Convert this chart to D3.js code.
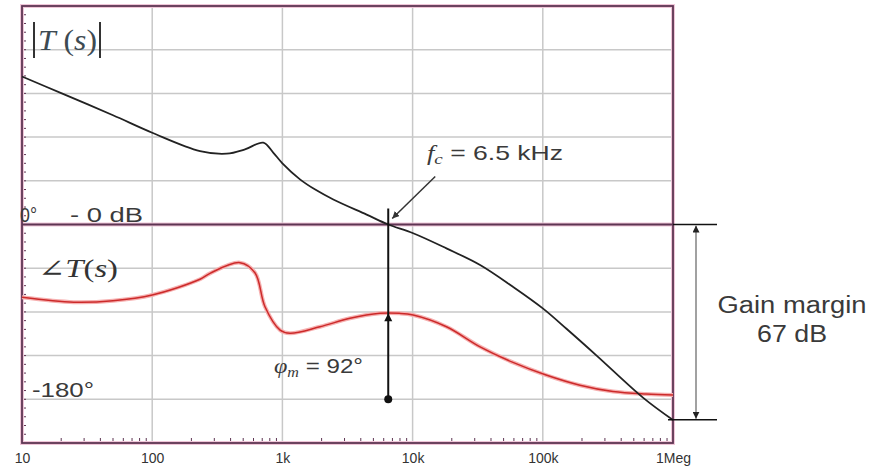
<!DOCTYPE html>
<html><head><meta charset="utf-8">
<script src="https://cdn.jsdelivr.net/npm/d3@7"></script>
<style>body{margin:0;background:#fff} svg{display:block}</style>
</head><body><svg id="c" width="872" height="468"></svg>
<script>
// ---- data ----
const decadeTicks = [10, 100, 1e3, 1e4, 1e5, 1e6];
const decadeLabels = ["10", "100", "1k", "10k", "100k", "1Meg"];
const magFreq = [10, 20, 50, 100, 233, 373, 516, 713, 850, 1000, 1365, 1800, 2460, 4436, 6500, 10100, 18200, 33000, 59000, 100000, 152000, 259000, 591000, 1000000];
const magDb   = [50.8, 45.1, 37.5, 31.5, 25.2, 24.3, 25.8, 28.1, 24.7, 21.0, 15.5, 11.9, 8.6, 3.4, 0, -3.0, -8.2, -13.9, -21.4, -28.8, -35.8, -45.0, -59.5, -67.1];
const phFreq = [10, 25, 50, 100, 233, 278, 472, 617, 735, 960, 1143, 1945, 3304, 5623, 7900, 10100, 18200, 33000, 59000, 106000, 193000, 346000, 620000, 1000000];
const phDeg  = [-75, -80, -78.5, -72.6, -56.4, -50.3, -39.3, -49.9, -84.7, -108.7, -112, -105.3, -96.6, -91.5, -91.5, -93.2, -105.3, -126, -142, -155, -165.5, -172, -174.6, -175.6];
const fcHz = 6500;
const pmPhase = -91.5;
const pmRef = -180;
const gainMarginDb = 67;

// ---- scales ----
const svg = d3.select("#c");
const L = 22, R = 673, T = 6, B = 443;
const x = d3.scaleLog().domain([10, 1e6]).range([L, R]);
const yMag = d3.scaleLinear().domain([75, -75]).range([T, B]);
const yPh = d3.scaleLinear().domain([225, -225]).range([T, B]);
const frameCol = "#5e3553";

// grid
const grid = svg.append("g");
grid.selectAll("line.h").data(d3.range(-60, 61, 15).filter(d => d !== 0)).join("line")
  .attr("x1", L).attr("x2", R).attr("y1", d => yMag(d)).attr("y2", d => yMag(d))
  .attr("stroke", "#c8c8c8").attr("stroke-width", 1.5);
grid.selectAll("line.v").data(decadeTicks.slice(1, -1)).join("line")
  .attr("x1", d => x(d)).attr("x2", d => x(d)).attr("y1", T).attr("y2", B)
  .attr("stroke", "#c8c8c8").attr("stroke-width", 1.5);

// minor ticks
const minorY = d3.range(-72, 73, 3);
svg.append("g").selectAll("line").data(minorY).join("line")
  .attr("x1", L).attr("x2", L + 4).attr("y1", d => yMag(d)).attr("y2", d => yMag(d))
  .attr("stroke", frameCol).attr("stroke-width", 1);
const minorX = [];
decadeTicks.slice(0, -1).forEach(d => { for (let k = 2; k <= 9; k++) minorX.push(d * k); });
svg.append("g").selectAll("line").data(minorX).join("line")
  .attr("x1", d => x(d)).attr("x2", d => x(d)).attr("y1", B).attr("y2", B - 5)
  .attr("stroke", frameCol).attr("stroke-width", 1);

// zero line & frame
[["#efc6d8", 4], [frameCol, 1.8]].forEach(([c, w]) => {
  svg.append("line").attr("x1", L).attr("x2", R).attr("y1", yMag(0)).attr("y2", yMag(0))
    .attr("stroke", c).attr("stroke-width", w);
  svg.append("rect").attr("x", L).attr("y", T).attr("width", R - L).attr("height", B - T)
    .attr("fill", "none").attr("stroke", c).attr("stroke-width", w);
});

// axis labels
const ax = svg.append("g").attr("transform", `translate(0,${B})`)
  .call(d3.axisBottom(x).tickValues(decadeTicks).tickFormat((d, i) => decadeLabels[i]).tickSize(0).tickPadding(10));
ax.select(".domain").remove();
ax.selectAll("text").attr("font-family", "Liberation Sans, Arial, sans-serif").attr("font-size", 14).attr("fill", "#333");

// curves
const crv = d3.curveCatmullRom.alpha(0.5);
const magLine = d3.line().x(d => x(d[0])).y(d => yMag(d[1])).curve(crv);
const phLine = d3.line().x(d => x(d[0])).y(d => yPh(d[1])).curve(crv);
const magData = magFreq.map((f, i) => [f, magDb[i]]);
const phData = phFreq.map((f, i) => [f, phDeg[i]]);
svg.append("path").datum(phData).attr("d", phLine).attr("fill", "none").attr("stroke", "#f6b0b0").attr("stroke-width", 4);
svg.append("path").datum(phData).attr("d", phLine).attr("fill", "none").attr("stroke", "#cc2a2a").attr("stroke-width", 1.5);
svg.append("path").datum(magData).attr("d", magLine).attr("fill", "none").attr("stroke", "#222").attr("stroke-width", 1.8);

// markers
const defs = svg.append("defs");
function mk(id, col) {
  defs.append("marker").attr("id", id).attr("viewBox", "0 0 10 10").attr("refX", 10).attr("refY", 5)
    .attr("markerWidth", 7).attr("markerHeight", 7).attr("markerUnits", "userSpaceOnUse").attr("orient", "auto-start-reverse")
    .append("path").attr("d", "M0,0 L10,5 L0,10 z").attr("fill", col);
}
mk("arr", "#333");
mk("arrG", "#222");

// fc / phase-margin marker
const xf = x(fcHz);
svg.append("line").attr("x1", xf).attr("x2", xf).attr("y1", yMag(0) - 16).attr("y2", yPh(pmRef))
  .attr("stroke", "#111").attr("stroke-width", 2);
svg.append("circle").attr("cx", xf).attr("cy", yPh(pmRef)).attr("r", 4).attr("fill", "#111");
svg.append("path").attr("d", `M${xf},${yPh(pmPhase)} L${xf - 4},${yPh(pmPhase) + 8} L${xf + 4},${yPh(pmPhase) + 8} Z`).attr("fill", "#111");
svg.append("line").attr("x1", xf + 47).attr("x2", xf + 4).attr("y1", yMag(0) - 48).attr("y2", yMag(0) - 6)
  .attr("stroke", "#333").attr("stroke-width", 1.5).attr("marker-end", "url(#arr)");

// gain margin
const xg = R + 23;
svg.append("line").attr("x1", R).attr("x2", R + 44).attr("y1", yMag(0)).attr("y2", yMag(0)).attr("stroke", "#111").attr("stroke-width", 1.6);
svg.append("line").attr("x1", R - 5).attr("x2", R + 44).attr("y1", yMag(-gainMarginDb)).attr("y2", yMag(-gainMarginDb)).attr("stroke", "#111").attr("stroke-width", 1.6);
svg.append("line").attr("x1", xg).attr("x2", xg).attr("y1", yMag(0) + 1).attr("y2", yMag(-gainMarginDb) - 1)
  .attr("stroke", "#8a8a8a").attr("stroke-width", 1.6).attr("marker-start", "url(#arrG)").attr("marker-end", "url(#arrG)");

// texts
const sans = "Liberation Sans, Arial, sans-serif";
const serif = "Liberation Serif, Times New Roman, serif";
function txt(xp, yp, size, len, parts, anchor) {
  const t = svg.append("text").attr("x", xp).attr("y", yp).attr("font-size", size)
    .attr("font-family", sans).attr("fill", "#3a3a3a");
  if (len) t.attr("textLength", len).attr("lengthAdjust", "spacingAndGlyphs");
  if (anchor) t.attr("text-anchor", anchor);
  parts.forEach(p => {
    const s = t.append("tspan").text(p.t);
    if (p.ff) s.attr("font-family", p.ff);
    if (p.it) s.attr("font-style", "italic");
    if (p.fs) s.attr("font-size", p.fs);
    if (p.dy) s.attr("dy", p.dy);
  });
  return t;
}
// |T(s)|
svg.append("line").attr("x1", 34).attr("x2", 34).attr("y1", 22).attr("y2", 58).attr("stroke", "#333").attr("stroke-width", 2);
svg.append("line").attr("x1", 100).attr("x2", 100).attr("y1", 22).attr("y2", 58).attr("stroke", "#333").attr("stroke-width", 2);
txt(38, 50, 30, 59, [{t: "T", ff: serif, it: 1}, {t: " (", ff: serif}, {t: "s", ff: serif, it: 1}, {t: ")", ff: serif}]).attr("fill", "#3d4a52");
// angle T(s)
txt(38, 277, 25, 80, [{t: "∠", ff: "DejaVu Serif, serif"}, {t: "T", ff: serif, it: 1}, {t: "(", ff: serif}, {t: "s", ff: serif, it: 1}, {t: ")", ff: serif}]).attr("fill", "#333");
txt(20, 222, 20, 17, [{t: "0°"}]);
txt(70, 222, 20, 73, [{t: "- 0 dB"}]);
txt(32, 397, 21, 62, [{t: "-180°"}]);
txt(274, 373, 21, 89, [{t: "φ", ff: serif, it: 1}, {t: "m", fs: 14, dy: 4, it: 1, ff: serif}, {t: " = 92°", dy: -4}]);
txt(427, 160, 21, 136, [{t: "f", ff: serif, it: 1}, {t: "c", fs: 15, dy: 4, it: 1, ff: serif}, {t: " = 6.5 kHz", dy: -4}]);
txt(792, 313, 23, 149, [{t: "Gain margin"}], "middle");
txt(792, 342, 23, 70, [{t: "67 dB"}], "middle");
</script>
</body></html>
